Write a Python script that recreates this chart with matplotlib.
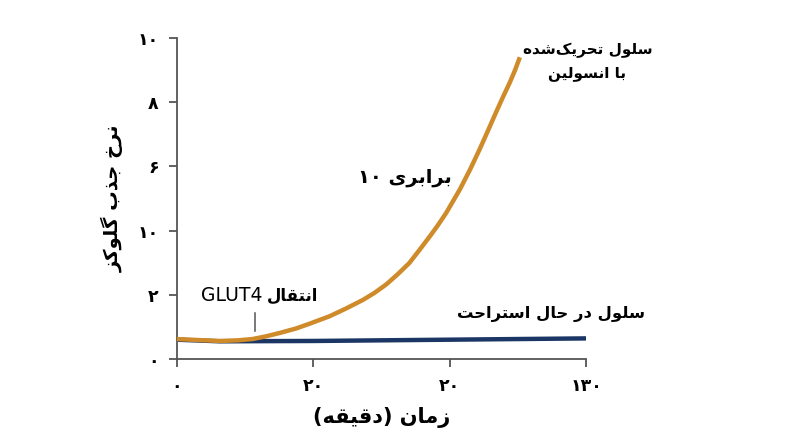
import re
import numpy as np
import matplotlib
matplotlib.use("Agg")
import matplotlib.pyplot as plt

# Arabic/Persian shaping (matplotlib has no bidi / joining support)
# char -> (isolated, final, initial, medial); right-joining letters have no initial/medial
FORMS = {
    "\u0627": ("\uFE8D", "\uFE8E", None, None),
    "\u0628": ("\uFE8F", "\uFE90", "\uFE91", "\uFE92"),
    "\u062A": ("\uFE95", "\uFE96", "\uFE97", "\uFE98"),
    "\u062C": ("\uFE9D", "\uFE9E", "\uFE9F", "\uFEA0"),
    "\u062D": ("\uFEA1", "\uFEA2", "\uFEA3", "\uFEA4"),
    "\u062E": ("\uFEA5", "\uFEA6", "\uFEA7", "\uFEA8"),
    "\u062F": ("\uFEA9", "\uFEAA", None, None),
    "\u0630": ("\uFEAB", "\uFEAC", None, None),
    "\u0631": ("\uFEAD", "\uFEAE", None, None),
    "\u0632": ("\uFEAF", "\uFEB0", None, None),
    "\u0633": ("\uFEB1", "\uFEB2", "\uFEB3", "\uFEB4"),
    "\u0634": ("\uFEB5", "\uFEB6", "\uFEB7", "\uFEB8"),
    "\u0642": ("\uFED5", "\uFED6", "\uFED7", "\uFED8"),
    "\u0644": ("\uFEDD", "\uFEDE", "\uFEDF", "\uFEE0"),
    "\u0645": ("\uFEE1", "\uFEE2", "\uFEE3", "\uFEE4"),
    "\u0646": ("\uFEE5", "\uFEE6", "\uFEE7", "\uFEE8"),
    "\u0647": ("\uFEE9", "\uFEEA", "\uFEEB", "\uFEEC"),
    "\u0648": ("\uFEED", "\uFEEE", None, None),
    "\u06A9": ("\uFB8E", "\uFB8F", "\uFB90", "\uFB91"),
    "\u06AF": ("\uFB92", "\uFB93", "\uFB94", "\uFB95"),
    "\u06CC": ("\uFBFC", "\uFBFD", "\uFBFE", "\uFBFF"),
}


def fa(text):
    out = []
    n = len(text)
    for i, ch in enumerate(text):
        if ch not in FORMS:
            if ch != "\u200c":
                out.append(ch)
            continue
        prev = text[i - 1] if i > 0 else ""
        nxt = text[i + 1] if i < n - 1 else ""
        join_prev = prev in FORMS and FORMS[prev][2] is not None
        join_next = nxt in FORMS and FORMS[ch][2] is not None
        iso, fin, ini, med = FORMS[ch]
        if join_prev and join_next:
            out.append(med)
        elif join_prev:
            out.append(fin)
        elif join_next:
            out.append(ini)
        else:
            out.append(iso)
    s = "".join(out)[::-1]
    s = s.translate(str.maketrans("()", ")("))
    # keep digit / latin runs left-to-right
    return re.sub(r"[0-9A-Za-z\u06F0-\u06F9]+", lambda m: m.group()[::-1], s)


# data
time_min = [0, 3, 6.3, 9, 11.1, 13, 15.1, 17.5, 19.5, 22.4, 24.8, 27.3, 29,
            30.7, 32.4, 34.1, 35.6, 37.1, 38.3, 39.5, 41.5, 43, 44.4, 45.6,
            46.8, 47.8, 48.8, 49.6, 50.3]
stimulated = [0.62, 0.59, 0.56, 0.58, 0.62, 0.7, 0.81, 0.95, 1.1, 1.33, 1.57,
              1.84, 2.06, 2.32, 2.64, 2.99, 3.4, 3.82, 4.17, 4.55, 5.28, 5.9,
              6.53, 7.1, 7.68, 8.15, 8.6, 9.0, 9.4]
rest_time = [0, 6.3, 20, 40, 60]
resting = [0.6, 0.55, 0.56, 0.6, 0.64]

y_ticks = [0, 2, 4, 6, 8, 10]
y_labels = ["\u06F0", "\u06F2", "\u06F1\u06F0", "\u06F6", "\u06F8", "\u06F1\u06F0"]
x_ticks = [0, 20, 40, 60]
x_labels = ["\u06F0", "\u06F2\u06F0", "\u06F2\u06F0", "\u06F1\u06F3\u06F0"]

orange = "#CF8A2A"
navy = "#1B3665"
axis_col = "#555555"

plt.rcParams["font.family"] = ["DejaVu Sans"]

fig = plt.figure(figsize=(8, 4.47), dpi=100)
ax = fig.add_axes([0.221, 0.197, 0.5115, 0.718])

ax.plot(rest_time, resting, color=navy, lw=3.2, solid_capstyle="butt", zorder=2)
ax.plot(time_min, stimulated, color=orange, lw=3.2, solid_capstyle="butt",
        solid_joinstyle="round", zorder=3)

ax.set_xlim(0, 60)
ax.set_ylim(0, 10)
for side in ["top", "right"]:
    ax.spines[side].set_visible(False)
for side in ["left", "bottom"]:
    ax.spines[side].set_color(axis_col)
    ax.spines[side].set_linewidth(1.3)

ax.set_xticks(x_ticks)
ax.set_xticklabels(x_labels, fontsize=12.5, fontweight="bold")
ax.set_yticks(y_ticks)
ax.set_yticklabels(y_labels, fontsize=12.5, fontweight="bold")
ax.tick_params(axis="both", direction="out", length=6, width=1.3, color=axis_col, pad=7)

ax.set_xlabel(fa("زمان (دقیقه)"), fontsize=15, fontweight="bold", labelpad=9)
ax.set_ylabel(fa("نرخ جذب گلوکز"), fontsize=14, fontweight="bold", labelpad=10)

# annotations
ax.text(60.2, 9.25, fa("سلول تحریک‌شده") + "\n" + fa("با انسولین"), ha="center",
        va="center", fontsize=11, fontweight="bold", linespacing=1.6)
ax.text(33.4, 5.66, fa("برابری ۱۰"), ha="center", va="center", fontsize=14,
        fontweight="bold")
ax.text(12.5, 1.97, "GLUT4", ha="right", va="center", fontsize=13.5)
ax.text(13.2, 1.97, fa("انتقال"), ha="left", va="center", fontsize=12,
        fontweight="bold")
ax.plot([11.4, 11.4], [0.875, 1.44], color="#555555", lw=1.1)
ax.text(68.6, 1.4, fa("سلول در حال استراحت"), ha="right", va="center",
        fontsize=11.8, fontweight="bold", clip_on=False)

fig.savefig("out.png", dpi=100)
